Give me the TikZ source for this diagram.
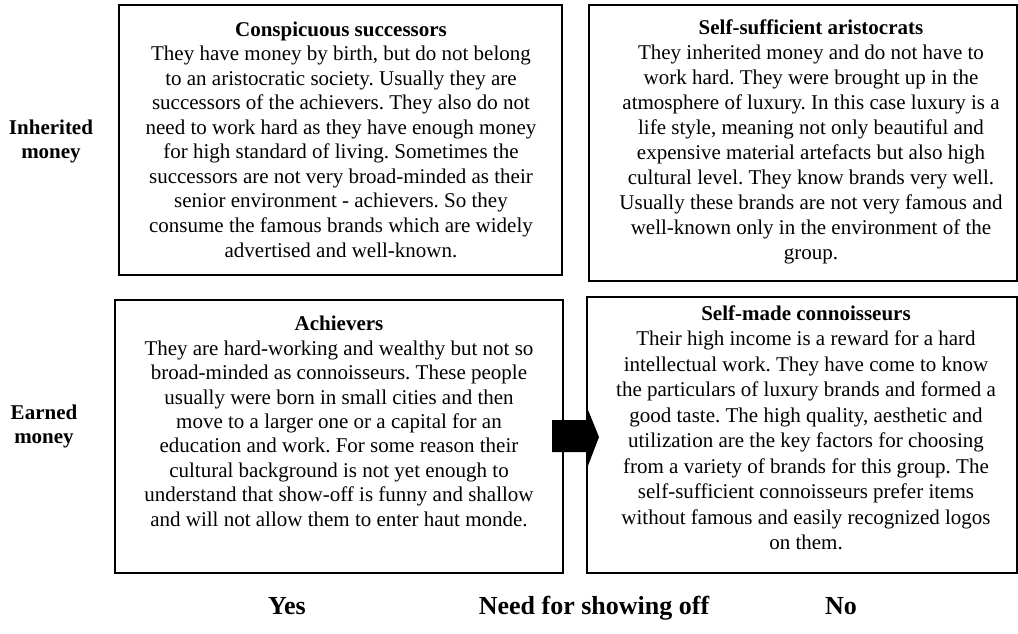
\documentclass[tikz,border=0pt]{standalone}
\usepackage{fontspec}
\setmainfont{Liberation Serif}
\frenchspacing
\begin{document}
\begin{tikzpicture}[x=1pt,y=-1pt,
  box/.style={draw=black,line width=1.4pt,inner sep=0pt},
  bodytext/.style={align=center,anchor=base,inner sep=0pt},
  sidelabel/.style={font=\fontsize{21}{24}\selectfont\bfseries,align=center,anchor=base,inner sep=0pt},
  axislabel/.style={font=\fontsize{26}{30}\selectfont\bfseries,anchor=base,inner sep=0pt}]
\useasboundingbox (0,0) rectangle (1018,634);

% boxes
\node (cs) [box,minimum width=443pt,minimum height=270pt] at (340.5,140) {};
\node (sa) [box,minimum width=428pt,minimum height=276pt] at (803,143) {};
\node (ac) [box,minimum width=448pt,minimum height=273pt] at (339,436.5) {};
\node (sc) [box,minimum width=430pt,minimum height=276pt] at (802,435) {};

% texts (anchor base = baseline of the last line)
\node (cst) [bodytext,font=\fontsize{21}{24.55}\selectfont] at (341,257) {\textbf{Conspicuous successors}\\
They have money by birth, but do not belong\\
to an aristocratic society. Usually they are\\
successors of the achievers. They also do not\\
need to work hard as they have enough money\\
for high standard of living. Sometimes the\\
successors are not very broad-minded as their\\
senior environment - achievers. So they\\
consume the famous brands which are widely\\
advertised and well-known.};

\node (sat) [bodytext,font=\fontsize{21}{24.9}\selectfont] at (811,259) {\textbf{Self-sufficient aristocrats}\\
They inherited money and do not have to\\
work hard. They were brought up in the\\
atmosphere of luxury. In this case luxury is a\\
life style, meaning not only beautiful and\\
expensive material artefacts but also high\\
cultural level. They know brands very well.\\
Usually these brands are not very famous and\\
well-known only in the environment of the\\
group.};

\node (act) [bodytext,font=\fontsize{21}{24.4}\selectfont] at (339,526) {\textbf{Achievers}\\
They are hard-working and wealthy but not so\\
broad-minded as connoisseurs. These people\\
usually were born in small cities and then\\
move to a larger one or a capital for an\\
education and work. For some reason their\\
cultural background is not yet enough to\\
understand that show-off is funny and shallow\\
and will not allow them to enter haut monde.};

\node (sct) [bodytext,font=\fontsize{21}{25.5}\selectfont] at (806,549.5) {\textbf{Self-made connoisseurs}\\
Their high income is a reward for a hard\\
intellectual work. They have come to know\\
the particulars of luxury brands and formed a\\
good taste. The high quality, aesthetic and\\
utilization are the key factors for choosing\\
from a variety of brands for this group. The\\
self-sufficient connoisseurs prefer items\\
without famous and easily recognized logos\\
on them.};

% side labels
\node (inh) [sidelabel] at (51,158) {Inherited\\money};
\node (ear) [sidelabel] at (44,443) {Earned\\money};

% bottom labels
\node (yes) [axislabel] at (287,614) {Yes};
\node (need) [axislabel] at (594,614) {Need for showing off};
\node (no) [axislabel] at (841,614) {No};

% block arrow
\fill[black] (552,420) -- (586,420) -- (586,405) -- (599,437) -- (586,471) -- (586,452) -- (552,452) -- cycle;
\end{tikzpicture}
\end{document}
